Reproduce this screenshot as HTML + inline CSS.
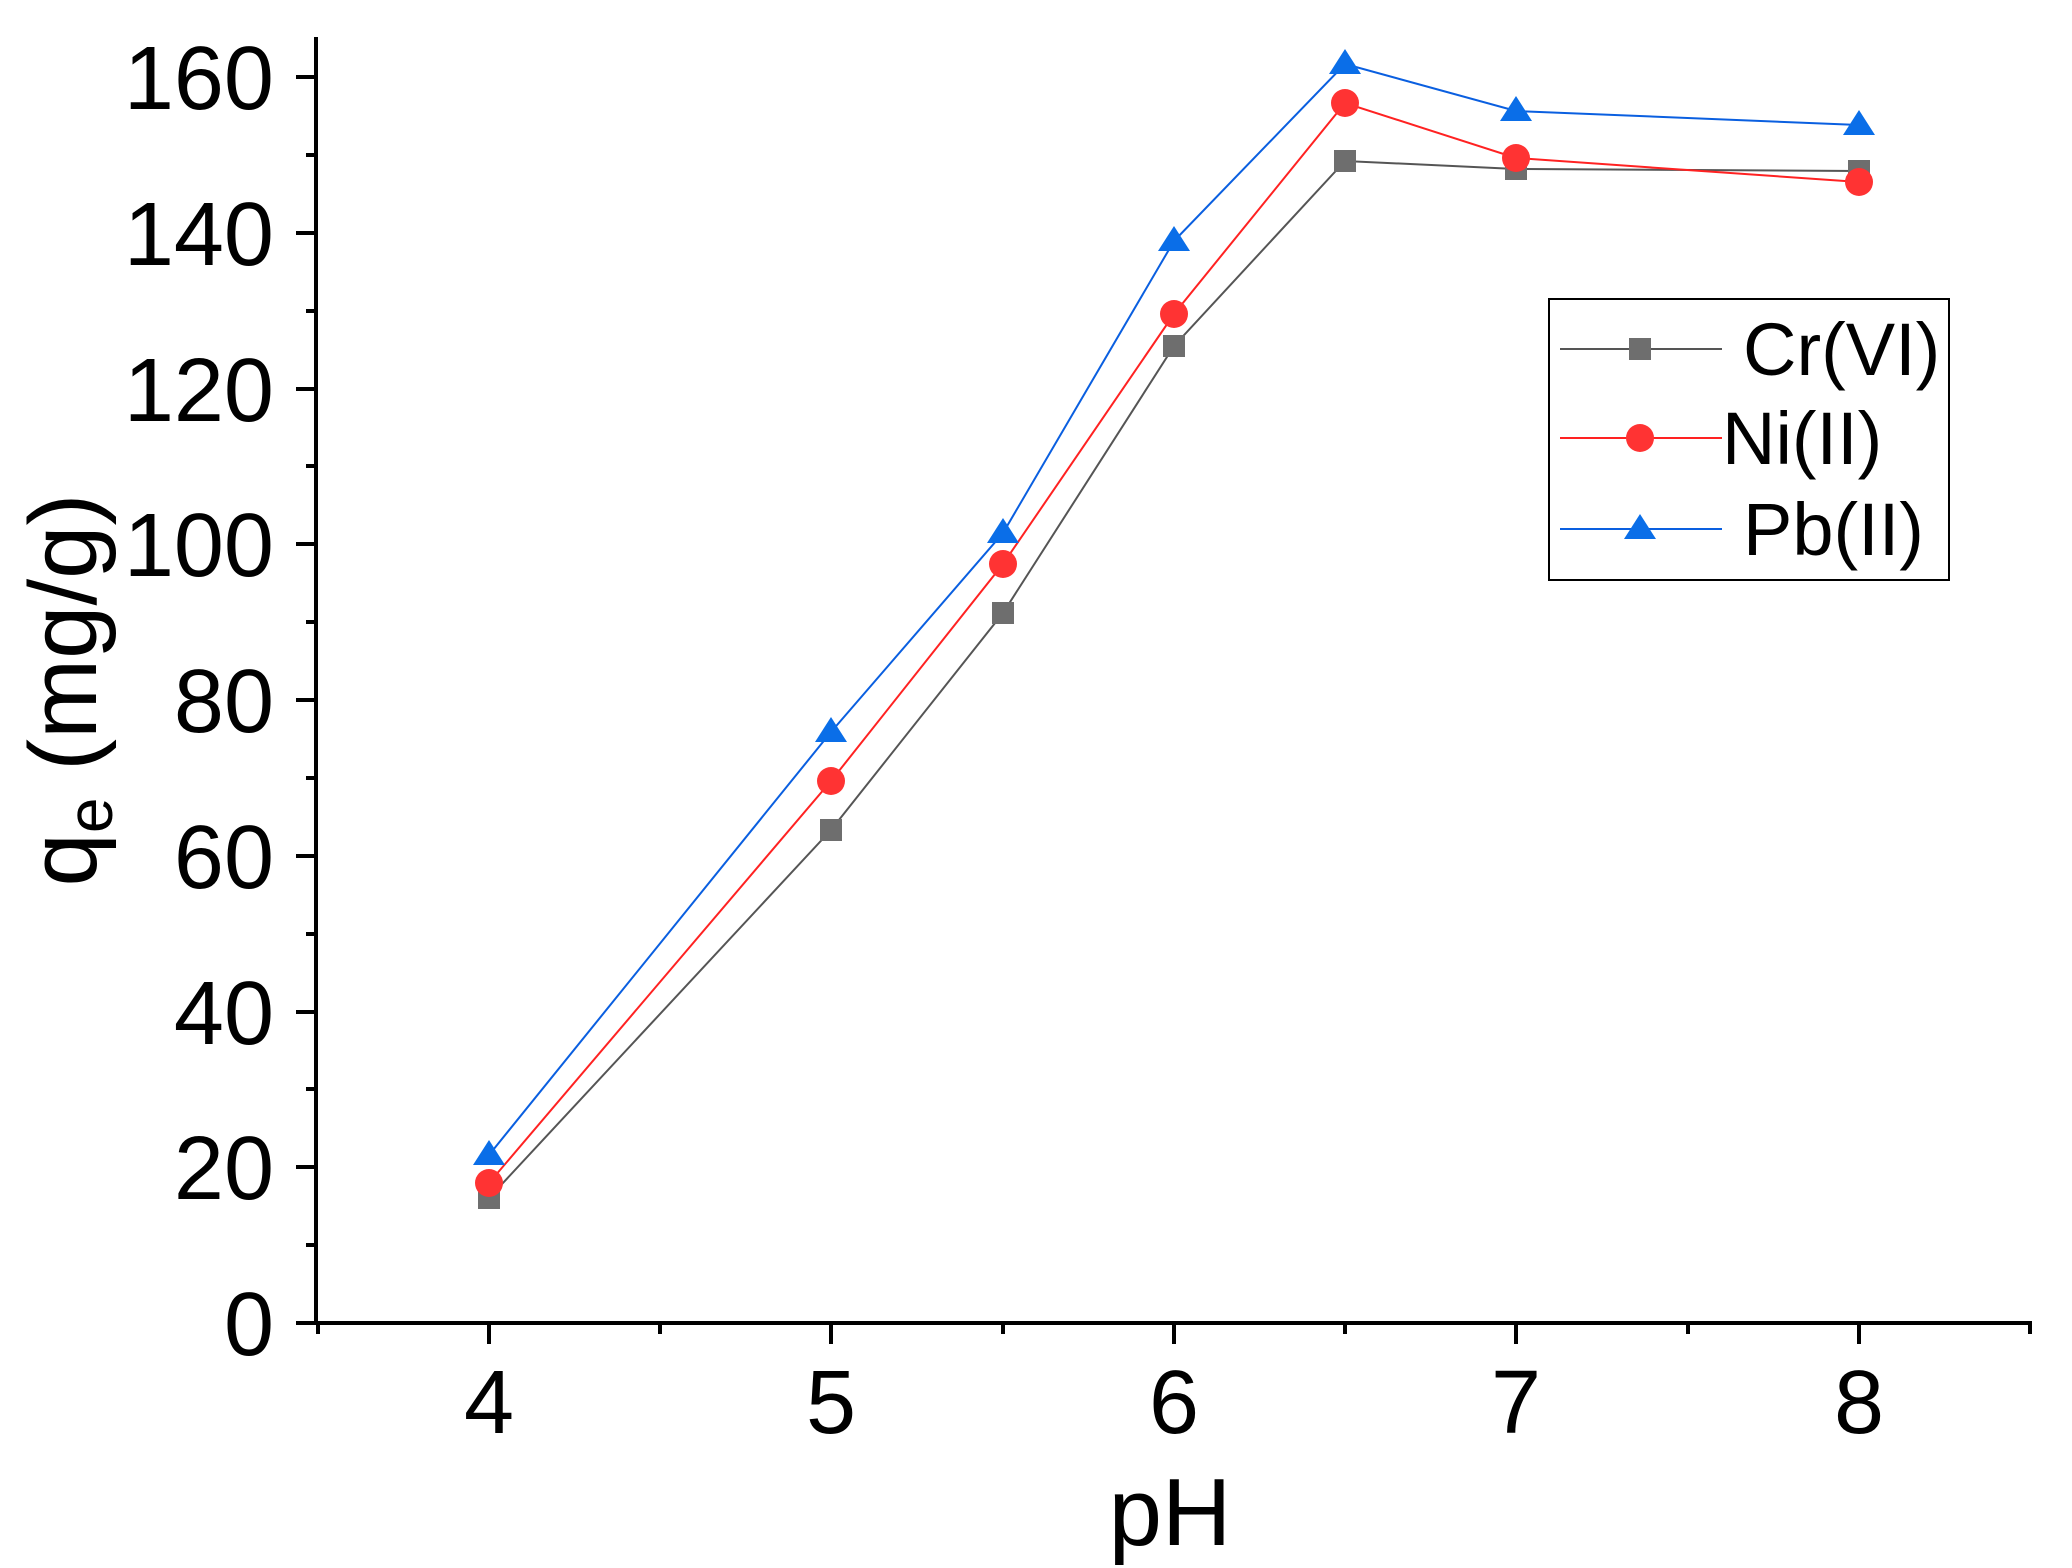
<!DOCTYPE html>
<html><head><meta charset="utf-8"><style>
html,body{margin:0;padding:0;background:#fff;}
svg{display:block;}
text{font-family:"Liberation Sans",Arial,sans-serif;fill:#000;}
</style></head><body>
<svg width="2072" height="1568" viewBox="0 0 2072 1568" xmlns="http://www.w3.org/2000/svg">
<rect width="2072" height="1568" fill="#fff"/>
<g stroke="#000" stroke-width="4" fill="none">
<line x1="316" y1="37" x2="316" y2="1325"/>
<line x1="296" y1="1323" x2="2032" y2="1323"/>
<line x1="296" y1="1323" x2="316" y2="1323"/>
<line x1="296" y1="1167" x2="316" y2="1167"/>
<line x1="296" y1="1012" x2="316" y2="1012"/>
<line x1="296" y1="856" x2="316" y2="856"/>
<line x1="296" y1="700" x2="316" y2="700"/>
<line x1="296" y1="544" x2="316" y2="544"/>
<line x1="296" y1="389" x2="316" y2="389"/>
<line x1="296" y1="233" x2="316" y2="233"/>
<line x1="296" y1="77" x2="316" y2="77"/>
<line x1="306" y1="1245" x2="316" y2="1245"/>
<line x1="306" y1="1089" x2="316" y2="1089"/>
<line x1="306" y1="934" x2="316" y2="934"/>
<line x1="306" y1="778" x2="316" y2="778"/>
<line x1="306" y1="622" x2="316" y2="622"/>
<line x1="306" y1="466" x2="316" y2="466"/>
<line x1="306" y1="311" x2="316" y2="311"/>
<line x1="306" y1="155" x2="316" y2="155"/>
<line x1="489" y1="1323" x2="489" y2="1344"/>
<line x1="831" y1="1323" x2="831" y2="1344"/>
<line x1="1174" y1="1323" x2="1174" y2="1344"/>
<line x1="1516" y1="1323" x2="1516" y2="1344"/>
<line x1="1859" y1="1323" x2="1859" y2="1344"/>
<line x1="318" y1="1323" x2="318" y2="1334"/>
<line x1="660" y1="1323" x2="660" y2="1334"/>
<line x1="1003" y1="1323" x2="1003" y2="1334"/>
<line x1="1345" y1="1323" x2="1345" y2="1334"/>
<line x1="1688" y1="1323" x2="1688" y2="1334"/>
<line x1="2030" y1="1323" x2="2030" y2="1334"/>
</g>
<g font-size="90" text-anchor="end">
<text x="274" y="1355">0</text>
<text x="274" y="1199">20</text>
<text x="274" y="1044">40</text>
<text x="274" y="888">60</text>
<text x="274" y="732">80</text>
<text x="274" y="576">100</text>
<text x="274" y="421">120</text>
<text x="274" y="265">140</text>
<text x="274" y="109">160</text>
</g>
<g font-size="90" text-anchor="middle">
<text x="489" y="1433">4</text>
<text x="831" y="1433">5</text>
<text x="1174" y="1433">6</text>
<text x="1516" y="1433">7</text>
<text x="1859" y="1433">8</text>
<text x="1170" y="1545" font-size="96">pH</text>
</g>
<text transform="translate(96,690) rotate(-90)" font-size="96" text-anchor="middle">q<tspan font-size="64" dy="16">e</tspan><tspan dy="-16"> (mg/g)</tspan></text>
<polyline fill="none" stroke="#555" stroke-width="2" points="489,1198 831,830 1003,613 1174,346 1345,161 1516,169 1859,171"/>
<polyline fill="none" stroke="#ff2222" stroke-width="2" points="489,1183 831,781 1003,564 1174,314 1345,103 1516,158 1859,182"/>
<polyline fill="none" stroke="#0a5fe0" stroke-width="2" points="489,1155 831,732 1003,533 1174,241 1345,64 1516,111 1859,125"/>
<g fill="#6e6e6e">
<rect x="478" y="1187" width="22" height="22"/><rect x="820" y="819" width="22" height="22"/><rect x="992" y="602" width="22" height="22"/><rect x="1163" y="335" width="22" height="22"/><rect x="1334" y="150" width="22" height="22"/><rect x="1505" y="158" width="22" height="22"/><rect x="1848" y="160" width="22" height="22"/>
</g>
<g fill="#ff3333">
<circle cx="489" cy="1183" r="14"/><circle cx="831" cy="781" r="14"/><circle cx="1003" cy="564" r="14"/><circle cx="1174" cy="314" r="14"/><circle cx="1345" cy="103" r="14"/><circle cx="1516" cy="158" r="14"/><circle cx="1859" cy="182" r="14"/>
</g>
<g fill="#0a6ee8">
<polygon points="489,1140 473,1165 505,1165"/><polygon points="831,717 815,742 847,742"/><polygon points="1003,518 987,543 1019,543"/><polygon points="1174,226 1158,251 1190,251"/><polygon points="1345,49 1329,74 1361,74"/><polygon points="1516,96 1500,121 1532,121"/><polygon points="1859,110 1843,135 1875,135"/>
</g>
<rect x="1549" y="299" width="400" height="281" fill="#fff" stroke="#000" stroke-width="2"/>
<line x1="1560" y1="349" x2="1722" y2="349" stroke="#555" stroke-width="2"/>
<rect x="1629" y="338" width="22" height="22" fill="#6e6e6e"/>
<line x1="1560" y1="438" x2="1722" y2="438" stroke="#ff2222" stroke-width="2"/>
<circle cx="1640" cy="438" r="14" fill="#ff3333"/>
<line x1="1560" y1="529" x2="1722" y2="529" stroke="#0a5fe0" stroke-width="2"/>
<polygon points="1640,514 1624,539 1656,539" fill="#0a6ee8"/>
<g font-size="74">
<text x="1743" y="375">Cr(VI)</text>
<text x="1722" y="464">Ni(II)</text>
<text x="1743" y="555">Pb(II)</text>
</g>
</svg>
</body></html>
